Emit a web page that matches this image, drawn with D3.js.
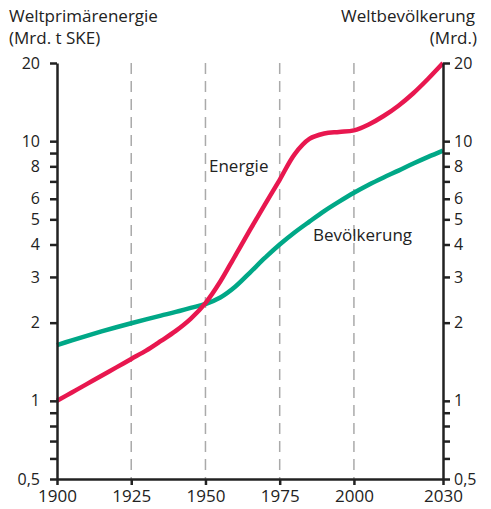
<!DOCTYPE html>
<html><head><meta charset="utf-8">
<script src="https://cdn.jsdelivr.net/npm/d3@7"></script>
<style>body{margin:0;background:#fff}text{font-family:"Open Sans",sans-serif;fill:#222}</style>
</head><body><svg id="c" width="491" height="509"></svg>
<script>
const years = [1900,1905,1910,1915,1920,1925,1930,1935,1940,1945,1950,1955,1960,1965,1970,1975,1980,1985,1990,1995,2000,2005,2010,2015,2020,2025,2030];
const energie = [1.0,1.077,1.16,1.25,1.345,1.45,1.56,1.7,1.86,2.07,2.38,2.88,3.62,4.55,5.7,7.1,8.9,10.2,10.7,10.85,11.0,11.6,12.5,13.7,15.3,17.4,20];
const bevoelkerung = [1.64,1.71,1.78,1.85,1.92,1.99,2.06,2.13,2.2,2.28,2.36,2.5,2.75,3.12,3.55,4.0,4.45,4.9,5.38,5.85,6.33,6.8,7.25,7.7,8.2,8.7,9.2];
const xTicks = [1900,1925,1950,1975,2000,2030];
const gridYears = [1925,1950,1975,2000];
const yTicks = [0.5,0.6,0.7,0.8,0.9,1,2,3,4,5,6,7,8,9,10,20];
const yLabels = [0.5,1,2,3,4,5,6,8,10,20];

const svg = d3.select("#c");
const x = d3.scaleLinear().domain([1900,2030]).range([57,443]);
const y = d3.scaleLog().domain([0.5,20]).range([479,63]);
const fmt = v => String(v).replace(".", ",");

// grid
svg.selectAll(".grid").data(gridYears).enter().append("line")
  .attr("x1", d=>x(d)).attr("x2", d=>x(d)).attr("y1", y(20)).attr("y2", y(0.5))
  .attr("stroke","#aaa").attr("stroke-width",1.5).attr("stroke-dasharray","11,7");

// lines
const line = d3.line().x((d,i)=>x(years[i])).y(d=>y(d)).curve(d3.curveCatmullRom.alpha(0.5));
svg.append("path").attr("d", line(bevoelkerung)).attr("fill","none").attr("stroke","#00a887").attr("stroke-width",4.5);
svg.append("path").attr("d", line(energie)).attr("fill","none").attr("stroke","#e8174f").attr("stroke-width",4.5);

// axes
function styleAxis(g){
  g.selectAll("path.domain").attr("stroke","#222").attr("stroke-width",2.5);
  g.selectAll(".tick line").attr("stroke","#222").attr("stroke-width",2.5);
  g.selectAll(".tick text").style("font-family","'Open Sans',sans-serif").style("font-size","16px").attr("fill","#222");
}
const yl = svg.append("g").attr("transform",`translate(${x(1900)},0)`)
  .call(d3.axisLeft(y).tickValues(yTicks).tickSize(7).tickSizeOuter(0).tickPadding(10)
    .tickFormat(d => yLabels.includes(d) ? fmt(d) : ""));
styleAxis(yl);
const yr = svg.append("g").attr("transform",`translate(${x(2030)},0)`)
  .call(d3.axisRight(y).tickValues(yTicks).tickSize(7).tickSizeOuter(0).tickPadding(4)
    .tickFormat(d => yLabels.includes(d) ? fmt(d) : ""));
styleAxis(yr);
const xa = svg.append("g").attr("transform",`translate(0,${y(0.5)})`)
  .call(d3.axisBottom(x).tickValues(xTicks).tickSize(6).tickSizeOuter(0).tickPadding(1).tickFormat(d3.format("d")));
styleAxis(xa);
xa.selectAll(".tick text").style("font-size","17px").attr("dy","0.95em");

// titles
svg.append("text").attr("x",9).attr("y",22).style("font-size","17px").text("Weltprimärenergie");
svg.append("text").attr("x",9).attr("y",44).style("font-size","17px").text("(Mrd. t SKE)");
svg.append("text").attr("x",475).attr("y",22).attr("text-anchor","end").style("font-size","17px").text("Weltbevölkerung");
svg.append("text").attr("x",477).attr("y",44).attr("text-anchor","end").style("font-size","17px").text("(Mrd.)");

// series labels
svg.append("text").attr("x",209).attr("y",172).style("font-size","17px").text("Energie");
svg.append("text").attr("x",313).attr("y",241).style("font-size","17px").text("Bevölkerung");
</script></body></html>
